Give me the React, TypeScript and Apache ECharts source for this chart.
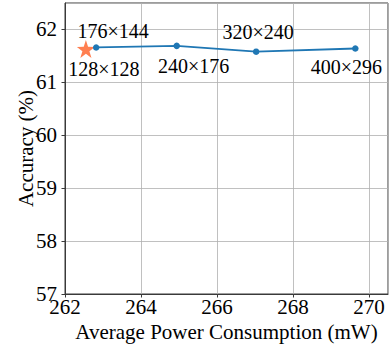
import React, { useEffect, useRef } from "react";
import * as echarts from "echarts";

const powers = [262.82, 264.94, 267.03, 269.64];
const accuracies = [61.66, 61.69, 61.58, 61.64];
const lineLabels = ["176×144", "240×176", "320×240", "400×296"];
const starPower = 262.55;
const starAccuracy = 61.63;
const starLabel = "128×128";

const FONT = "Liberation Serif";

export default function App() {
  const ref = useRef<HTMLDivElement>(null);
  useEffect(() => {
    document.body.style.margin = "0";
    const chart = echarts.init(ref.current!, null, { renderer: "svg" });
    const lblPos: any[] = [
      { position: "top", offset: [17, 2] },
      { position: "bottom", offset: [17, 2] },
      { position: "top", offset: [2, -1] },
      { position: "bottom", offset: [-9, 0] },
    ];
    chart.setOption({
      animation: false,
      textStyle: { fontFamily: FONT },
      grid: {
        left: 65,
        right: 2,
        top: 3,
        bottom: 51,
        outerBoundsMode: "none",
        show: true,
        borderColor: "#3a3a3a",
        borderWidth: 1,
        backgroundColor: "transparent",
      },
      xAxis: {
        type: "value",
        min: 262,
        max: 270.5,
        interval: 2,
        name: "Average Power Consumption (mW)",
        nameLocation: "middle",
        nameGap: 22,
        nameTextStyle: { fontFamily: FONT, fontSize: 21, color: "#000" },
        axisLine: { show: true, lineStyle: { color: "#3a3a3a", width: 1 } },
        axisTick: { show: true, length: 3.5, lineStyle: { color: "#3a3a3a" } },
        axisLabel: {
          fontFamily: FONT,
          fontSize: 21,
          color: "#000",
          margin: 2,
          showMaxLabel: false,
        },
        splitLine: { show: true, lineStyle: { color: "#b0b0b0", width: 0.8 } },
      },
      yAxis: {
        type: "value",
        min: 57,
        max: 62.5,
        interval: 1,
        name: "Accuracy (%)",
        nameLocation: "middle",
        nameGap: 29,
        nameMoveOverlap: false,
        nameTextStyle: { fontFamily: FONT, fontSize: 21, color: "#000" },
        axisLine: { show: true, lineStyle: { color: "#3a3a3a", width: 1 } },
        axisTick: { show: true, length: 3.5, lineStyle: { color: "#3a3a3a" } },
        axisLabel: {
          fontFamily: FONT,
          fontSize: 21,
          color: "#000",
          margin: 8,
          showMaxLabel: false,
        },
        splitLine: { show: true, lineStyle: { color: "#b0b0b0", width: 0.8 } },
      },
      series: [
        {
          type: "line",
          data: powers.map((p, i) => ({
            value: [p, accuracies[i]],
            label: {
              show: true,
              formatter: lineLabels[i],
              position: lblPos[i].position,
              offset: lblPos[i].offset,
              fontFamily: FONT,
              fontSize: 20,
              color: "#000",
            },
          })),
          symbol: "circle",
          symbolSize: 6.5,
          itemStyle: { color: "#1f77b4", opacity: 1 },
          lineStyle: { color: "#1f77b4", width: 1.8 },
          z: 3,
        },
        {
          type: "scatter",
          data: [
            {
              value: [starPower, starAccuracy],
              label: {
                show: true,
                formatter: starLabel,
                position: "bottom",
                offset: [18, -4],
                fontFamily: FONT,
                fontSize: 20,
                color: "#000",
              },
            },
          ],
          symbol: "path://M50,0 L61.8,35.3 L99,35.5 L69.1,57.6 L80.3,93 L50,71.5 L19.7,93 L30.9,57.6 L1,35.5 L38.2,35.3 Z",
          symbolSize: 18,
          itemStyle: { color: "#ff7f50", opacity: 1 },
          z: 2,
        },
      ],
    });
    return () => chart.dispose();
  }, []);
  return <div ref={ref} style={{ width: 390, height: 345 }} />;
}
